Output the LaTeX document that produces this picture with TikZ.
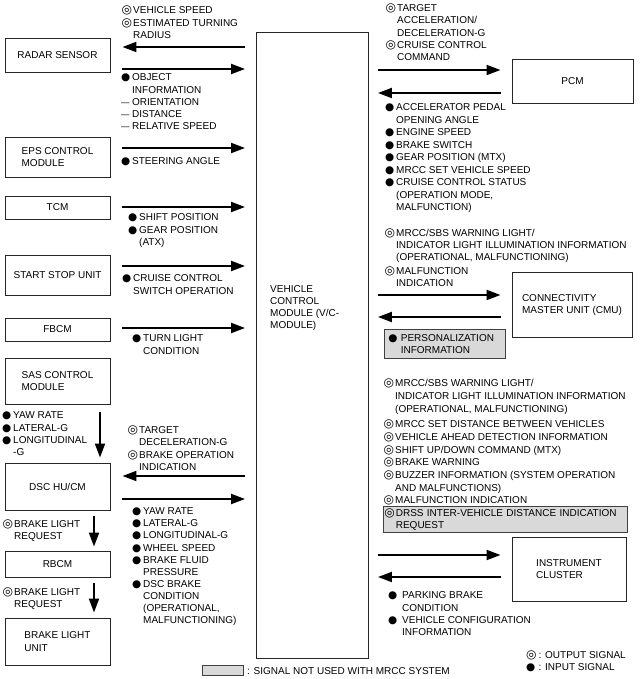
\documentclass[tikz,border=0pt]{standalone}
\usepackage{fontspec}
\setmainfont{Liberation Sans}
\newfontfamily\djv{DejaVu Sans}
\usetikzlibrary{arrows.meta,calc}
\newcommand\fs{\fontsize{10}{12.3}\selectfont}
\newcommand\symf{\djv\fontsize{10.5}{12}\selectfont}
\newcommand\symo{\djv\fontsize{12}{12}\selectfont}
\newcommand\so{\makebox[11pt][l]{\hspace*{-0.5pt}\symo ◎}}
\newcommand\si{\makebox[11pt][l]{\symf ●}}
\newcommand\sh{\hspace*{11pt}}
\newcommand\sd{\makebox[11pt][l]{\fontsize{8.5}{10}\selectfont —}}
\begin{document}
\begin{tikzpicture}[x=1pt,y=-1pt,
  box/.style={draw=black!85,line width=0.9pt,inner sep=2pt,align=left,font=\fs},
  txt/.style={anchor=north west,yshift=7.8pt,inner sep=0pt,align=left,font=\fs,
    execute at begin node={\rule{0pt}{9.5pt}}},
  arr/.style={line width=2pt,-{Triangle[length=14pt,width=10pt]}},
  graybox/.style={draw=black!75,line width=0.7pt,fill=black!15,anchor=north west,
    inner xsep=1.5pt,inner ysep=0pt,align=left,font=\fs}]
\useasboundingbox (0,0) rectangle (639,679);

% central module
\node[draw=black!85,line width=0.9pt,minimum width=112pt,minimum height=626pt,inner sep=0pt] (vcm) at (312.5,345.5) {};
\node[txt,yshift=0.5pt,font=\fontsize{10}{12}\selectfont] (vcmlabel) at (270,293.6) {VEHICLE\\CONTROL\\MODULE (V/C-\\MODULE)};

% left boxes
\node[box,minimum width=105pt,minimum height=34pt] (radar) at (57.5,55) {RADAR SENSOR};
\node[box,minimum width=105pt,minimum height=40pt] (eps) at (57.5,157) {EPS CONTROL\\MODULE};
\node[box,minimum width=105pt,minimum height=23pt] (tcm) at (57.5,207.5) {TCM};
\node[box,minimum width=105pt,minimum height=40pt] (ssu) at (57.5,275) {START STOP UNIT};
\node[box,minimum width=105pt,minimum height=23pt] (fbcm) at (57.5,329.5) {FBCM};
\node[box,minimum width=105pt,minimum height=46pt] (sas) at (57.5,381) {SAS CONTROL\\MODULE};
\node[box,minimum width=105pt,minimum height=47pt] (dsc) at (57.5,486.5) {DSC HU/CM};
\node[box,minimum width=105pt,minimum height=26pt] (rbcm) at (57.5,564) {RBCM};
\node[box,minimum width=105pt,minimum height=47pt] (blu) at (57.5,641.5) {BRAKE LIGHT\\UNIT};

% right boxes
\node[box,minimum width=121pt,minimum height=44pt] (pcm) at (572.5,81) {PCM};
\node[box,minimum width=120pt,minimum height=65pt] (cmu) at (572,305) {CONNECTIVITY\\MASTER UNIT (CMU)};
\node[box,minimum width=114pt,minimum height=64pt] (ic) at (569,569) {INSTRUMENT\\CLUSTER};

% gray boxes
\node[graybox,text width=118pt,minimum height=29pt] (pers) at (384,329)
  {\makebox[15pt][l]{\hspace*{2.5pt}\symf ●}PERSONALIZATION\\\hspace*{15pt}INFORMATION};
\node[graybox,text width=241pt,minimum height=26pt] (drss) at (383,506)
  {\so DRSS INTER-VEHICLE DISTANCE INDICATION\\\sh REQUEST};

% horizontal arrows, left side
\draw[arr] ($(vcm.west|-0,47)+(-11,0)$) -- ($(radar.east|-0,47)+(12,0)$);
\draw[arr] ($(radar.east|-0,69)+(12,0)$) -- ($(vcm.west|-0,69)+(-11,0)$);
\draw[arr] ($(eps.east|-0,148)+(12,0)$) -- ($(vcm.west|-0,148)+(-11,0)$);
\draw[arr] ($(tcm.east|-0,207)+(12,0)$) -- ($(vcm.west|-0,207)+(-11,0)$);
\draw[arr] ($(ssu.east|-0,266)+(12,0)$) -- ($(vcm.west|-0,266)+(-11,0)$);
\draw[arr] ($(fbcm.east|-0,328)+(12,0)$) -- ($(vcm.west|-0,328)+(-11,0)$);
\draw[arr] ($(vcm.west|-0,476)+(-11,0)$) -- ($(dsc.east|-0,476)+(12,0)$);
\draw[arr] ($(dsc.east|-0,499)+(12,0)$) -- ($(vcm.west|-0,499)+(-11,0)$);

% horizontal arrows, right side
\draw[arr] ($(vcm.east|-0,70)+(9,0)$) -- ($(pcm.west|-0,70)+(-11,0)$);
\draw[arr] ($(pcm.west|-0,93)+(-11,0)$) -- ($(vcm.east|-0,93)+(9,0)$);
\draw[arr] ($(vcm.east|-0,295)+(9,0)$) -- ($(cmu.west|-0,295)+(-11,0)$);
\draw[arr] ($(cmu.west|-0,317)+(-11,0)$) -- ($(vcm.east|-0,317)+(9,0)$);
\draw[arr] ($(vcm.east|-0,555)+(9,0)$) -- ($(ic.west|-0,555)+(-11,0)$);
\draw[arr] ($(ic.west|-0,577)+(-11,0)$) -- ($(vcm.east|-0,577)+(9,0)$);

% vertical arrows
\draw[arr] ($(sas.south-|100,0)+(0,8)$) -- ($(dsc.north-|100,0)+(0,-5)$);
\draw[arr] ($(dsc.south-|94,0)+(0,6)$) -- ($(rbcm.north-|94,0)+(0,-4)$);
\draw[arr] ($(rbcm.south-|94,0)+(0,6)$) -- ($(blu.north-|94,0)+(0,-5)$);

% signal lists, left
\node[txt] (t1) at (122,13.6) {\so VEHICLE SPEED\\\so ESTIMATED TURNING\\\sh RADIUS};
\node[txt,font=\fontsize{10}{12.2}\selectfont] (t2) at (121,81.5) {\si OBJECT\\\sh INFORMATION\\\sd ORIENTATION\\\sd DISTANCE\\\sd RELATIVE SPEED};
\node[txt] (t3) at (121,162.5) {\si STEERING ANGLE};
\node[txt] (t4) at (128,221.5) {\si SHIFT POSITION\\\si GEAR POSITION\\\sh (ATX)};
\node[txt] (t5) at (122,282.5) {\si CRUISE CONTROL\\\sh SWITCH OPERATION};
\node[txt] (t6) at (132,342.5) {\si TURN LIGHT\\\sh CONDITION};
\node[txt] (t7) at (2,419.5) {\si YAW RATE\\\si LATERAL-G\\\si LONGITUDINAL\\\sh -G};
\node[txt] (t8) at (128,433.5) {\so TARGET\\\sh DECELERATION-G\\\so BRAKE OPERATION\\\sh INDICATION};
\node[txt,font=\fontsize{10}{12.1}\selectfont] (t9) at (132,515.5) {\si YAW RATE\\\si LATERAL-G\\\si LONGITUDINAL-G\\\si WHEEL SPEED\\\si BRAKE FLUID\\\sh PRESSURE\\\si DSC BRAKE\\\sh CONDITION\\\sh (OPERATIONAL,\\\sh MALFUNCTIONING)};
\node[txt] (t10) at (3,527.5) {\so BRAKE LIGHT\\\sh REQUEST};
\node[txt] (t11) at (3,595.5) {\so BRAKE LIGHT\\\sh REQUEST};

% signal lists, right
\node[txt] (r1) at (386,11.3) {\so TARGET\\\sh ACCELERATION/\\\sh DECELERATION-G\\\so CRUISE CONTROL\\\sh COMMAND};
\node[txt,font=\fontsize{10}{12.5}\selectfont] (r2) at (385,111.5) {\si ACCELERATOR PEDAL\\\sh OPENING ANGLE\\\si ENGINE SPEED\\\si BRAKE SWITCH\\\si GEAR POSITION (MTX)\\\si MRCC SET VEHICLE SPEED\\\si CRUISE CONTROL STATUS\\\sh (OPERATION MODE,\\\sh MALFUNCTION)};
\node[txt,font=\fontsize{10}{12}\selectfont] (r3) at (385,236.5) {\so MRCC/SBS WARNING LIGHT/\\\sh INDICATOR LIGHT ILLUMINATION INFORMATION\\\sh (OPERATIONAL, MALFUNCTIONING)\\[2pt]\so MALFUNCTION\\\sh INDICATION};
\node[txt,font=\fontsize{10}{12.7}\selectfont] (r4) at (384,386.5) {\so MRCC/SBS WARNING LIGHT/\\\sh INDICATOR LIGHT ILLUMINATION INFORMATION\\\sh (OPERATIONAL, MALFUNCTIONING)\\[3pt]\so MRCC SET DISTANCE BETWEEN VEHICLES\\\so VEHICLE AHEAD DETECTION INFORMATION\\\so SHIFT UP/DOWN COMMAND (MTX)\\\so BRAKE WARNING\\\so BUZZER INFORMATION (SYSTEM OPERATION\\\sh AND MALFUNCTIONS)\\\so MALFUNCTION INDICATION};
\node[txt,font=\fontsize{10}{12.3}\selectfont] (r5) at (388,599.5) {\makebox[14pt][l]{\symf ●}PARKING BRAKE\\\hspace*{14pt}CONDITION\\\makebox[14pt][l]{\symf ●}VEHICLE CONFIGURATION\\\hspace*{14pt}INFORMATION};

% legends
\node[txt,font=\fontsize{10}{12}\selectfont] (leg1) at (526,658.5) {\makebox[12.5pt][l]{\symo ◎}: OUTPUT SIGNAL\\\makebox[12.5pt][l]{\symf ●}: INPUT SIGNAL};
\node[draw=black!75,line width=0.7pt,fill=black!15,minimum width=41pt,minimum height=10pt,inner sep=0pt] (legbox) at (222.5,670) {};
\node[txt] (leg2) at (247,673) {: SIGNAL NOT USED WITH MRCC SYSTEM};
\end{tikzpicture}
\end{document}
